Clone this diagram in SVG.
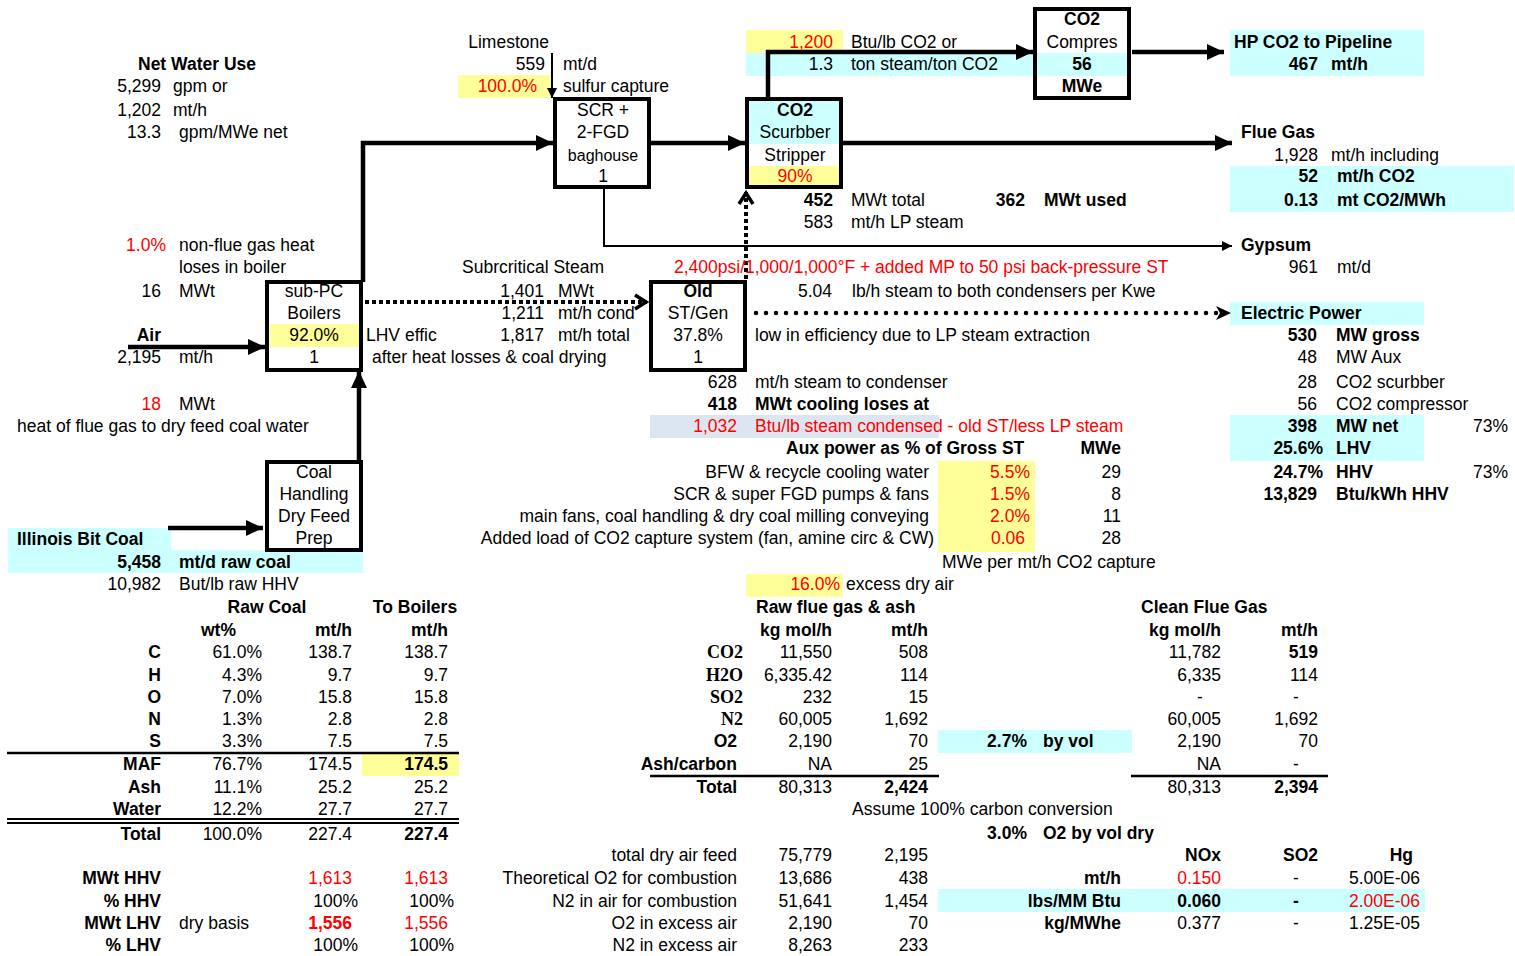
<svg xmlns="http://www.w3.org/2000/svg" width="1515" height="956" viewBox="0 0 1515 956">
<defs>
<style>
text{font-family:"Liberation Sans",Arial,sans-serif;font-size:17.5px;fill:#000}
.b{font-weight:bold}
.r{fill:#ff0000}
.e{text-anchor:end}
.m{text-anchor:middle}
.s{font-family:"Liberation Serif","Times New Roman",serif;font-weight:bold;font-size:18px}
.sm{font-size:16px}
.box{fill:none;stroke:#000;stroke-width:4}
.y{fill:#ffff99}
.c{fill:#ccffff}
.g{fill:#dce6f1}
.thick{fill:none;stroke:#000;stroke-width:4.5}
.thin{fill:none;stroke:#000;stroke-width:2}
.dot{fill:none;stroke:#000;stroke-width:4;stroke-dasharray:4 3}
.rdot{fill:none;stroke:#000;stroke-width:4.5;stroke-dasharray:0 10;stroke-linecap:round}
.rule{stroke:#000;stroke-width:2.5}
</style>
<marker id="ah" markerUnits="userSpaceOnUse" markerWidth="18" markerHeight="18" viewBox="0 0 18 18" refX="17" refY="9" orient="auto"><path d="M0,1 L17,9 L0,17 z" fill="#000"/></marker>
<marker id="ahs" markerUnits="userSpaceOnUse" markerWidth="10" markerHeight="10" viewBox="0 0 10 10" refX="10" refY="5" orient="auto"><path d="M0,0 L10,5 L0,10 z" fill="#000"/></marker>
<marker id="chev" markerUnits="userSpaceOnUse" markerWidth="16" markerHeight="18" viewBox="0 0 16 18" refX="14" refY="9" orient="auto"><path d="M2,2 L13,9 L2,16" fill="none" stroke="#000" stroke-width="3.5"/></marker>
<marker id="chevf" markerUnits="userSpaceOnUse" markerWidth="18" markerHeight="18" viewBox="0 0 18 18" refX="16" refY="9" orient="auto"><path d="M1,2 L16,9 L1,16 L5,9 z" fill="#000"/></marker>
</defs>

<!-- background fills -->
<g id="fills">
<rect class="y" x="458" y="75" width="95" height="23"/>
<rect class="y" x="746" y="30" width="97" height="23"/>
<rect class="c" x="746" y="53" width="287" height="23"/>
<rect class="c" x="1230" y="30" width="194" height="46"/>
<rect class="c" x="1230" y="166" width="284" height="46"/>
<rect class="c" x="1230" y="302" width="194" height="23"/>
<rect class="c" x="1230" y="415" width="194" height="46"/>
<rect class="g" x="650" y="415" width="289" height="23"/>
<rect class="y" x="938" y="461" width="97" height="91"/>
<rect class="y" x="746" y="574" width="97" height="23"/>
<rect class="c" x="8" y="528" width="163" height="23"/>
<rect class="c" x="8" y="550" width="355" height="23"/>
<rect class="y" x="362" y="753" width="97" height="23"/>
<rect class="c" x="938" y="730" width="194" height="23"/>
<rect class="c" x="938" y="889" width="487" height="23"/>
</g>

<!-- connectors -->
<g id="connectors">
<path class="thick" d="M363,282 V143 H553" marker-end="url(#ah)"/>
<path class="thick" d="M651,143 H745" marker-end="url(#ah)"/>
<path class="thick" d="M843,143 H1232" marker-end="url(#ah)"/>
<path class="thick" d="M768,97 V52 H1033" marker-end="url(#ah)"/>
<path class="thick" d="M1132,52 H1224" marker-end="url(#ah)"/>
<path class="thin" d="M604,189 V246 H1232" marker-end="url(#ahs)"/>
<path class="thin" d="M552,53 V98" marker-end="url(#ahs)"/>
<path class="thick" d="M128,347 H265" marker-end="url(#ah)"/>
<path class="thick" d="M168,528 H263" marker-end="url(#ah)"/>
<path class="thick" d="M359,460 V371" marker-end="url(#ah)"/>
<path class="dot" d="M365,302 H647" marker-end="url(#chev)"/>
<path class="dot" d="M746,279 V192" marker-end="url(#chev)"/>
<path class="rdot" d="M756,313 H1222"/>
<path d="M1222,313 H1231" stroke="none" fill="none" marker-end="url(#chevf)"/>
</g>

<!-- top left: water -->
<g id="water">
<text class="b" x="138" y="70">Net Water Use</text>
<text class="e" x="161" y="92">5,299</text><text x="173" y="92">gpm or</text>
<text class="e" x="161" y="116">1,202</text><text x="173" y="116">mt/h</text>
<text class="e" x="161" y="138">13.3</text><text x="179" y="138">gpm/MWe net</text>
</g>

<g id="limestone">
<text class="e" x="549" y="48">Limestone</text>
<text class="e" x="545" y="70">559</text><text x="563" y="70">mt/d</text>
<text class="e r" x="537" y="92">100.0%</text><text x="563" y="92">sulfur capture</text>
</g>

<g id="scr">
<rect class="box" x="555" y="99" width="94" height="88"/>
<text class="m" x="603" y="116">SCR +</text>
<text class="m" x="603" y="138">2-FGD</text>
<text class="m sm" x="603" y="161">baghouse</text>
<text class="m" x="603" y="182">1</text>
</g>

<g id="scrubber">
<rect class="c" x="747" y="99" width="94" height="45"/>
<rect class="y" x="747" y="166" width="94" height="21"/>
<rect class="box" x="747" y="99" width="94" height="88"/>
<text class="m b" x="795" y="116">CO2</text>
<text class="m" x="795" y="138">Scurbber</text>
<text class="m" x="795" y="161">Stripper</text>
<text class="m r" x="795" y="182">90%</text>
</g>

<g id="steamnotes">
<text class="e r" x="833" y="48">1,200</text><text x="851" y="48">Btu/lb CO2 or</text>
<text class="e" x="833" y="70">1.3</text><text x="851" y="70">ton steam/ton CO2</text>
<text class="e b" x="833" y="206">452</text><text x="851" y="206">MWt total</text>
<text class="e b" x="1025" y="206">362</text><text class="b" x="1044" y="206">MWt used</text>
<text class="e" x="833" y="228">583</text><text x="851" y="228">mt/h LP steam</text>
</g>

<g id="compressor">
<rect class="c" x="1035" y="53" width="94" height="23"/>
<rect class="box" x="1035" y="9" width="94" height="89"/>
<text class="m b" x="1082" y="25">CO2</text>
<text class="m" x="1082" y="48">Compres</text>
<text class="m b" x="1082" y="70">56</text>
<text class="m b" x="1082" y="92">MWe</text>
</g>

<g id="pipeline">
<text class="b" x="1234" y="48">HP CO2 to Pipeline</text>
<text class="e b" x="1318" y="70">467</text><text class="b" x="1331" y="70">mt/h</text>
</g>

<g id="fluegas">
<text class="b" x="1241" y="138">Flue Gas</text>
<text class="e" x="1318" y="161">1,928</text><text x="1331" y="161">mt/h including</text>
<text class="e b" x="1318" y="182">52</text><text class="b" x="1337" y="182">mt/h CO2</text>
<text class="e b" x="1318" y="206">0.13</text><text class="b" x="1337" y="206">mt CO2/MWh</text>
</g>

<g id="gypsum">
<text class="b" x="1241" y="251">Gypsum</text>
<text class="e" x="1318" y="273">961</text><text x="1337" y="273">mt/d</text>
</g>

<g id="boilernotes">
<text class="e r" x="166" y="251">1.0%</text><text x="179" y="251">non-flue gas heat</text>
<text x="179" y="273">loses in boiler</text>
<text class="e" x="161" y="297">16</text><text x="179" y="297">MWt</text>
<text class="e b" x="161" y="341">Air</text>
<text class="e" x="161" y="363">2,195</text><text x="179" y="363">mt/h</text>
<text class="e r" x="161" y="410">18</text><text x="179" y="410">MWt</text>
<text x="17" y="432">heat of flue gas to dry feed coal water</text>
<text x="366" y="341">LHV effic</text>
<text x="372" y="363">after heat losses &amp; coal drying</text>
</g>

<g id="boilers">
<rect class="y" x="267" y="324" width="94" height="23"/>
<rect class="box" x="267" y="282" width="94" height="88"/>
<text class="m" x="314" y="297">sub-PC</text>
<text class="m" x="314" y="319">Boilers</text>
<text class="m" x="314" y="341">92.0%</text>
<text class="m" x="314" y="363">1</text>
</g>

<g id="coalprep">
<rect class="box" x="267" y="462" width="94" height="88"/>
<text class="m" x="314" y="478">Coal</text>
<text class="m" x="314" y="500">Handling</text>
<text class="m" x="314" y="522">Dry Feed</text>
<text class="m" x="314" y="544">Prep</text>
</g>

<g id="coal">
<text class="b" x="17" y="545">Illinois Bit Coal</text>
<text class="e b" x="161" y="568">5,458</text><text class="b" x="179" y="568">mt/d raw coal</text>
<text class="e" x="161" y="590">10,982</text><text x="179" y="590">But/lb raw HHV</text>
</g>

<g id="steam">
<text x="462" y="273">Subrcritical Steam</text>
<text class="r" x="674" y="273">2,400psi/1,000/1,000°F + added MP to 50 psi back-pressure ST</text>
<text class="e" x="544" y="297">1,401</text><text x="558" y="297">MWt</text>
<text class="e" x="544" y="319">1,211</text><text x="558" y="319">mt/h cond</text>
<text class="e" x="544" y="341">1,817</text><text x="558" y="341">mt/h total</text>
</g>

<g id="stgen">
<rect class="box" x="651" y="282" width="94" height="88"/>
<text class="m b" x="698" y="297">Old</text>
<text class="m" x="698" y="319">ST/Gen</text>
<text class="m" x="698" y="341">37.8%</text>
<text class="m" x="698" y="363">1</text>
</g>

<g id="stnotes">
<text class="e" x="832" y="297">5.04</text><text x="852" y="297">lb/h steam to both condensers per Kwe</text>
<text x="755" y="341">low in efficiency due to LP steam extraction</text>
<text class="e" x="737" y="388">628</text><text x="755" y="388">mt/h steam to condenser</text>
<text class="e b" x="737" y="410">418</text><text class="b" x="755" y="410">MWt cooling loses at</text>
<text class="e r" x="737" y="432">1,032</text><text class="r" x="755" y="432">Btu/lb steam condensed - old ST/less LP steam</text>
</g>

<g id="aux">
<text class="b" x="786" y="454">Aux power as % of Gross ST</text><text class="e b" x="1121" y="454">MWe</text>
<text class="e" x="929" y="478">BFW &amp; recycle cooling water</text><text class="e r" x="1030" y="478">5.5%</text><text class="e" x="1121" y="478">29</text>
<text class="e" x="929" y="500">SCR &amp; super FGD pumps &amp; fans</text><text class="e r" x="1030" y="500">1.5%</text><text class="e" x="1121" y="500">8</text>
<text class="e" x="929" y="522">main fans, coal handling &amp; dry coal milling conveying</text><text class="e r" x="1030" y="522">2.0%</text><text class="e" x="1121" y="522">11</text>
<text class="e" x="934" y="544">Added load of CO2 capture system (fan, amine circ &amp; CW)</text><text class="e r" x="1025" y="544">0.06</text><text class="e" x="1121" y="544">28</text>
<text x="942" y="568">MWe per mt/h CO2 capture</text>
<text class="e r" x="840" y="590">16.0%</text><text x="846" y="590">excess dry air</text>
</g>

<g id="power">
<text class="b" x="1241" y="319">Electric Power</text>
<text class="e b" x="1317" y="341">530</text><text class="b" x="1336" y="341">MW gross</text>
<text class="e" x="1317" y="363">48</text><text x="1336" y="363">MW Aux</text>
<text class="e" x="1317" y="388">28</text><text x="1336" y="388">CO2 scurbber</text>
<text class="e" x="1317" y="410">56</text><text x="1336" y="410">CO2 compressor</text>
<text class="e b" x="1317" y="432">398</text><text class="b" x="1336" y="432">MW net</text><text class="e" x="1508" y="432">73%</text>
<text class="e b" x="1323" y="454">25.6%</text><text class="b" x="1336" y="454">LHV</text>
<text class="e b" x="1323" y="478">24.7%</text><text class="b" x="1336" y="478">HHV</text><text class="e" x="1508" y="478">73%</text>
<text class="e b" x="1317" y="500">13,829</text><text class="b" x="1336" y="500">Btu/kWh HHV</text>
</g>

<!-- coal table -->
<g id="coaltable">
<text class="m b" x="267" y="613">Raw Coal</text><text class="m b" x="415" y="613">To Boilers</text>
<text class="e b" x="236" y="636">wt%</text><text class="e b" x="352" y="636">mt/h</text><text class="e b" x="448" y="636">mt/h</text>
<text class="e b" x="161" y="658">C</text><text class="e" x="262" y="658">61.0%</text><text class="e" x="352" y="658">138.7</text><text class="e" x="448" y="658">138.7</text>
<text class="e b" x="161" y="681">H</text><text class="e" x="262" y="681">4.3%</text><text class="e" x="352" y="681">9.7</text><text class="e" x="448" y="681">9.7</text>
<text class="e b" x="161" y="703">O</text><text class="e" x="262" y="703">7.0%</text><text class="e" x="352" y="703">15.8</text><text class="e" x="448" y="703">15.8</text>
<text class="e b" x="161" y="725">N</text><text class="e" x="262" y="725">1.3%</text><text class="e" x="352" y="725">2.8</text><text class="e" x="448" y="725">2.8</text>
<text class="e b" x="161" y="747">S</text><text class="e" x="262" y="747">3.3%</text><text class="e" x="352" y="747">7.5</text><text class="e" x="448" y="747">7.5</text>
<line class="rule" x1="7" y1="753" x2="459" y2="753"/>
<text class="e b" x="161" y="770">MAF</text><text class="e" x="262" y="770">76.7%</text><text class="e" x="352" y="770">174.5</text><text class="e b" x="448" y="770">174.5</text>
<text class="e b" x="161" y="793">Ash</text><text class="e" x="262" y="793">11.1%</text><text class="e" x="352" y="793">25.2</text><text class="e" x="448" y="793">25.2</text>
<text class="e b" x="161" y="815">Water</text><text class="e" x="262" y="815">12.2%</text><text class="e" x="352" y="815">27.7</text><text class="e" x="448" y="815">27.7</text>
<line x1="7" y1="819" x2="459" y2="819" stroke="#000" stroke-width="2"/>
<line x1="7" y1="823" x2="459" y2="823" stroke="#000" stroke-width="2"/>
<text class="e b" x="161" y="840">Total</text><text class="e" x="262" y="840">100.0%</text><text class="e" x="352" y="840">227.4</text><text class="e b" x="448" y="840">227.4</text>
<text class="e b" x="161" y="884">MWt HHV</text><text class="e r" x="352" y="884">1,613</text><text class="e r" x="448" y="884">1,613</text>
<text class="e b" x="161" y="907">% HHV</text><text class="e" x="358" y="907">100%</text><text class="e" x="454" y="907">100%</text>
<text class="e b" x="161" y="929">MWt LHV</text><text x="179" y="929">dry basis</text><text class="e b r" x="352" y="929">1,556</text><text class="e r" x="448" y="929">1,556</text>
<text class="e b" x="161" y="951">% LHV</text><text class="e" x="358" y="951">100%</text><text class="e" x="454" y="951">100%</text>
</g>

<!-- raw flue gas table -->
<g id="rawflue">
<text class="b" x="756" y="613">Raw flue gas &amp; ash</text>
<text class="e b" x="832" y="636">kg mol/h</text><text class="e b" x="928" y="636">mt/h</text>
<text class="e s" x="743" y="658">CO2</text><text class="e" x="832" y="658">11,550</text><text class="e" x="928" y="658">508</text>
<text class="e s" x="743" y="681">H2O</text><text class="e" x="832" y="681">6,335.42</text><text class="e" x="928" y="681">114</text>
<text class="e s" x="743" y="703">SO2</text><text class="e" x="832" y="703">232</text><text class="e" x="928" y="703">15</text>
<text class="e s" x="743" y="725">N2</text><text class="e" x="832" y="725">60,005</text><text class="e" x="928" y="725">1,692</text>
<text class="e b" x="737" y="747">O2</text><text class="e" x="832" y="747">2,190</text><text class="e" x="928" y="747">70</text>
<text class="e b" x="737" y="770">Ash/carbon</text><text class="e" x="832" y="770">NA</text><text class="e" x="928" y="770">25</text>
<line class="rule" x1="650" y1="776" x2="939" y2="776"/>
<text class="e b" x="737" y="793">Total</text><text class="e" x="832" y="793">80,313</text><text class="e b" x="928" y="793">2,424</text>
<text x="852" y="815">Assume 100% carbon conversion</text>
<text class="e b" x="1027" y="747">2.7%</text><text class="b" x="1043" y="747">by vol</text>
<text class="e b" x="1027" y="839">3.0%</text><text class="b" x="1043" y="839">O2 by vol dry</text>
<text class="e" x="737" y="861">total dry air feed</text><text class="e" x="832" y="861">75,779</text><text class="e" x="928" y="861">2,195</text>
<text class="e" x="737" y="884">Theoretical O2 for combustion</text><text class="e" x="832" y="884">13,686</text><text class="e" x="928" y="884">438</text>
<text class="e" x="737" y="907">N2 in air for combustion</text><text class="e" x="832" y="907">51,641</text><text class="e" x="928" y="907">1,454</text>
<text class="e" x="737" y="929">O2 in excess air</text><text class="e" x="832" y="929">2,190</text><text class="e" x="928" y="929">70</text>
<text class="e" x="737" y="951">N2 in excess air</text><text class="e" x="832" y="951">8,263</text><text class="e" x="928" y="951">233</text>
</g>

<!-- clean flue gas table -->
<g id="cleanflue">
<text class="b" x="1141" y="613">Clean Flue Gas</text>
<text class="e b" x="1221" y="636">kg mol/h</text><text class="e b" x="1318" y="636">mt/h</text>
<text class="e" x="1221" y="658">11,782</text><text class="e b" x="1318" y="658">519</text>
<text class="e" x="1221" y="681">6,335</text><text class="e" x="1318" y="681">114</text>
<text class="m" x="1200" y="703">-</text><text class="m" x="1296" y="703">-</text>
<text class="e" x="1221" y="725">60,005</text><text class="e" x="1318" y="725">1,692</text>
<text class="e" x="1221" y="747">2,190</text><text class="e" x="1318" y="747">70</text>
<text class="e" x="1221" y="770">NA</text><text class="m" x="1296" y="770">-</text>
<line class="rule" x1="1131" y1="776" x2="1328" y2="776"/>
<text class="e" x="1221" y="793">80,313</text><text class="e b" x="1318" y="793">2,394</text>
</g>

<g id="emissions">
<text class="e b" x="1221" y="861">NOx</text><text class="e b" x="1318" y="861">SO2</text><text class="e b" x="1413" y="861">Hg</text>
<text class="e b" x="1121" y="884">mt/h</text><text class="e r" x="1221" y="884">0.150</text><text class="m" x="1296" y="884">-</text><text class="e" x="1420" y="884">5.00E-06</text>
<text class="e b" x="1121" y="907">lbs/MM Btu</text><text class="e b" x="1221" y="907">0.060</text><text class="m b" x="1296" y="907">-</text><text class="e r" x="1420" y="907">2.00E-06</text>
<text class="e b" x="1121" y="929">kg/MWhe</text><text class="e" x="1221" y="929">0.377</text><text class="m" x="1296" y="929">-</text><text class="e" x="1420" y="929">1.25E-05</text>
</g>
</svg>
